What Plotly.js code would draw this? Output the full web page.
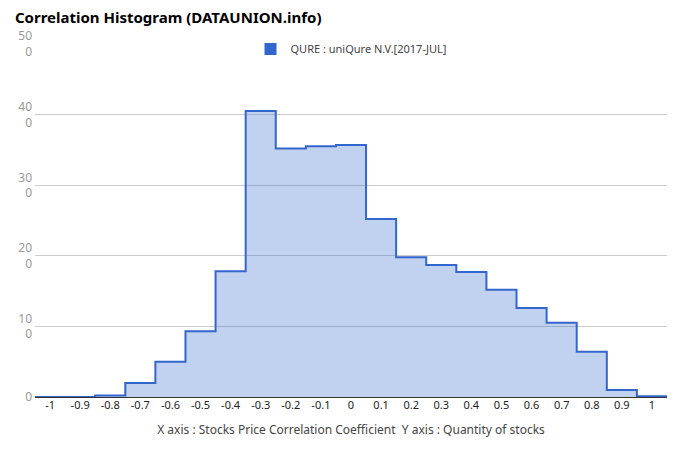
<!DOCTYPE html>
<html>
<head>
<meta charset="utf-8">
<script src="https://cdn.plot.ly/plotly-3.0.1.min.js"></script>
<style>html,body{margin:0;padding:0;background:#fff;}#chart{width:680px;height:462px;}</style>
</head>
<body>
<div id="chart"></div>
<script>
// bin centers (correlation coefficient) and quantity of stocks
var binCenters = [-1, -0.9, -0.8, -0.7, -0.6, -0.5, -0.4, -0.3, -0.2, -0.1, 0, 0.1, 0.2, 0.3, 0.4, 0.5, 0.6, 0.7, 0.8, 0.9, 1];
var counts     = [0, 0, 2, 20, 50, 93, 178, 405, 352, 355, 357, 252, 198, 187, 177, 152, 126, 105, 64, 10, 1];
var xTickText  = ['-1', '-0.9', '-0.8', '-0.7', '-0.6', '-0.5', '-0.4', '-0.3', '-0.2', '-0.1', '0', '0.1', '0.2', '0.3', '0.4', '0.5', '0.6', '0.7', '0.8', '0.9', '1'];
var binWidth = 0.1;
var seriesName = 'QURE : uniQure N.V.[2017-JUL]';
var yTickVals = [0, 100, 200, 300, 400, 500];
var yTickText = ['0', '10<br>0', '20<br>0', '30<br>0', '40<br>0', '50<br>0'];

// step edges built from bin centers
var edgesX = binCenters.map(function(c){ return c - binWidth/2; });
edgesX.push(binCenters[binCenters.length-1] + binWidth/2);
var edgesY = counts.slice();
edgesY.push(counts[counts.length-1]);

var font = '"Noto Sans", "Open Sans", sans-serif';

var traces = [
  {
    x: edgesX, y: edgesY, type: 'scatter', mode: 'lines',
    line: {shape: 'hv', color: '#3366cc', width: 2},
    fill: 'tozeroy', fillcolor: 'rgba(51,102,204,0.3)',
    showlegend: false, hoverinfo: 'x+y'
  },
  {
    x: [null], y: [null], type: 'bar', name: seriesName,
    marker: {color: '#3366cc'}, showlegend: true
  }
];

var layout = {
  width: 680, height: 462,
  margin: {l: 35, r: 13, t: 44, b: 65},
  paper_bgcolor: '#fff', plot_bgcolor: '#fff',
  font: {family: font, size: 12, color: '#444'},
  title: {text: '<b>Correlation Histogram (DATAUNION.info)</b>', x: 0.022, xanchor: 'left', y: 0.962, yanchor: 'middle',
          font: {family: font, size: 15, color: '#000'}},
  showlegend: true,
  legend: {orientation: 'h', x: 0.5, xanchor: 'center', y: 0.986, yanchor: 'middle',
           font: {family: font, size: 11, color: '#444'}, bgcolor: 'rgba(0,0,0,0)'},
  xaxis: {
    range: [-1.05, 1.05], tickmode: 'array', tickvals: binCenters, ticktext: xTickText,
    showgrid: false, zeroline: false, showline: false, ticks: '',
    tickfont: {family: font, size: 11, color: '#222'},
    title: {text: 'X axis : Stocks Price Correlation Coefficient  Y axis : Quantity of stocks',
            font: {family: font, size: 12, color: '#444'}, standoff: 14},
    fixedrange: true
  },
  yaxis: {
    range: [0, 500], tickmode: 'array', tickvals: yTickVals, ticktext: yTickText,
    showgrid: true, gridcolor: '#cccccc', gridwidth: 1,
    zeroline: true, zerolinecolor: '#333333', zerolinewidth: 1,
    tickfont: {family: font, size: 12, color: '#999'}, ticks: '', ticklabelstandoff: 2,
    fixedrange: true
  }
};

Plotly.newPlot('chart', traces, layout, {displayModeBar: false, staticPlot: true});
</script>
</body>
</html>
